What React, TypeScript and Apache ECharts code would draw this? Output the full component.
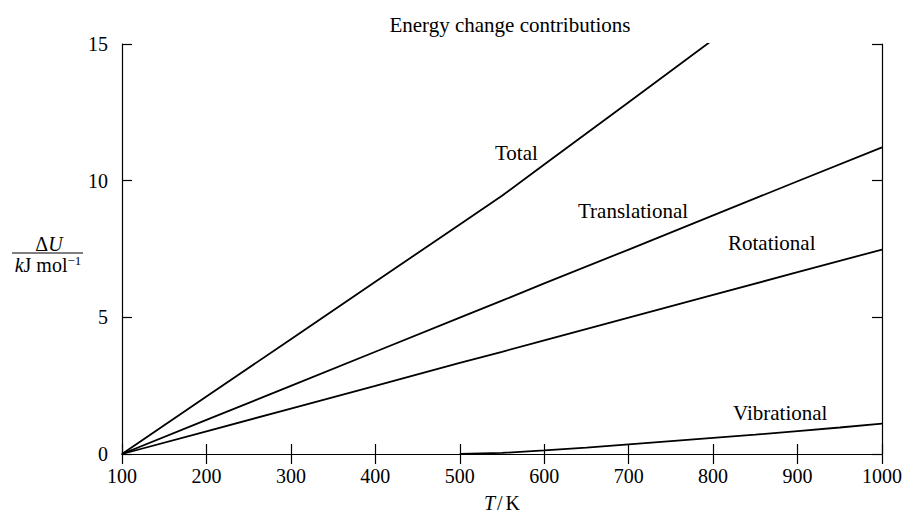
import React, { useEffect, useRef } from "react";
import * as echarts from "echarts";

const titleText = "Energy change contributions";
const temps = [100, 200, 300, 400, 500, 550, 600, 700, 800, 900, 1000];
const translational = [0, 1.25, 2.49, 3.74, 4.99, 5.61, 6.24, 7.48, 8.73, 9.98, 11.22];
const rotational = [0, 0.83, 1.66, 2.49, 3.33, 3.74, 4.16, 4.99, 5.82, 6.65, 7.48];
const vibTemps = [500, 550, 600, 650, 700, 750, 800, 850, 900, 950, 1000];
const vibrational = [0, 0.04, 0.13, 0.23, 0.35, 0.47, 0.59, 0.71, 0.84, 0.97, 1.11];
const total = [0, 2.1, 4.2, 6.3, 8.4, 9.45, 10.59, 12.87, 15.16, 17.48, 19.81];
const xTicks = [100, 200, 300, 400, 500, 600, 700, 800, 900, 1000];
const yTicks = [0, 5, 10, 15];
const seriesLabels = ["Total", "Translational", "Rotational", "Vibrational"];

const FONT = "'Liberation Serif', 'DejaVu Serif', serif";

export default function App() {
  const ref = useRef<HTMLDivElement>(null);
  useEffect(() => {
    if (!ref.current) return;
    const chart = echarts.init(ref.current, null, { renderer: "svg" });
    const lineStyle = { color: "#000", width: 1.8 };
    const mk = (name: string, xs: number[], ys: number[]) => ({
      name,
      type: "line",
      data: xs.map((x, i) => [x, ys[i]]),
      showSymbol: false,
      symbol: "none",
      lineStyle,
      clip: true,
      silent: true,
    });
    const axisCommon = {
      type: "value",
      axisLine: { show: true, lineStyle: { color: "#000", width: 1.2 } },
      axisTick: { show: true, inside: true, length: 10, lineStyle: { color: "#000", width: 1.2 } },
      splitLine: { show: false },
    };
    const lbl = (text: string, x: number, y: number) => ({
      type: "text",
      x,
      y,
      style: { text, font: `21px ${FONT}`, fill: "#000", verticalAlign: "middle" },
    });
    chart.setOption({
      animation: false,
      backgroundColor: "#fff",
      title: {
        text: titleText,
        left: 505,
        textAlign: "center",
        top: 9,
        textStyle: { fontFamily: FONT, fontSize: 21, fontWeight: "normal", color: "#000" },
      },
      grid: { left: 122, right: 21, top: 44, bottom: 58 },
      xAxis: [
        {
          ...axisCommon,
          position: "bottom",
          min: 100,
          max: 1000,
          interval: 100,
          axisLabel: {
            fontFamily: FONT,
            fontSize: 20,
            color: "#000",
            margin: 12,
            formatter: (v: number) => (xTicks.includes(v) ? String(v) : ""),
          },
          name: "{i|T}{n|/}{k|K}",
          nameLocation: "middle",
          nameGap: 39,
          nameTextStyle: {
            rich: {
              i: { fontFamily: FONT, fontSize: 20, fontStyle: "italic", color: "#000", padding: [0, 2, 0, 0] },
              n: { fontFamily: FONT, fontSize: 20, color: "#000", padding: [0, 3, 0, 0] },
              k: { fontFamily: FONT, fontSize: 20, color: "#000" },
            },
          },
        },
        {
          ...axisCommon,
          position: "top",
          min: 100,
          max: 1000,
          interval: 100,
          axisLabel: { show: false },
        },
      ],
      yAxis: [
        {
          ...axisCommon,
          position: "left",
          min: 0,
          max: 15,
          interval: 5,
          axisLabel: {
            fontFamily: FONT,
            fontSize: 20,
            color: "#000",
            margin: 14,
            formatter: (v: number) => (yTicks.includes(v) ? String(v) : ""),
          },
        },
        {
          ...axisCommon,
          position: "right",
          min: 0,
          max: 15,
          interval: 5,
          axisLabel: { show: false },
        },
      ],
      series: [
        mk("Total", temps, total),
        mk("Translational", temps, translational),
        mk("Rotational", temps, rotational),
        mk("Vibrational", vibTemps, vibrational),
      ],
      graphic: [
        lbl(seriesLabels[0], 495, 153),
        lbl(seriesLabels[1], 578, 211),
        lbl(seriesLabels[2], 728, 243),
        lbl(seriesLabels[3], 733, 413),
        {
          type: "text",
          x: 49,
          y: 244,
          style: {
            text: "{n|Δ}{i|U}",
            align: "center",
            verticalAlign: "middle",
            rich: {
              n: { fontFamily: FONT, fontSize: 20, fill: "#000" },
              i: { fontFamily: FONT, fontSize: 20, fontStyle: "italic", fill: "#000" },
            },
          },
        },
        { type: "line", shape: { x1: 12, y1: 253, x2: 83, y2: 253 }, style: { stroke: "#000", lineWidth: 1.2 } },
        {
          type: "text",
          x: 48,
          y: 265,
          style: {
            text: "{i|k}{n|J mol}{s|−1}",
            align: "center",
            verticalAlign: "middle",
            rich: {
              i: { fontFamily: FONT, fontSize: 20, fontStyle: "italic", fill: "#000" },
              n: { fontFamily: FONT, fontSize: 20, fill: "#000" },
              s: { fontFamily: FONT, fontSize: 13, fill: "#000", verticalAlign: "top", padding: [0, 0, 9, 0] },
            },
          },
        },
      ],
    });
    return () => chart.dispose();
  }, []);
  return <div ref={ref} style={{ width: 905, height: 518, position: "absolute", left: 0, top: 0 }} />;
}
